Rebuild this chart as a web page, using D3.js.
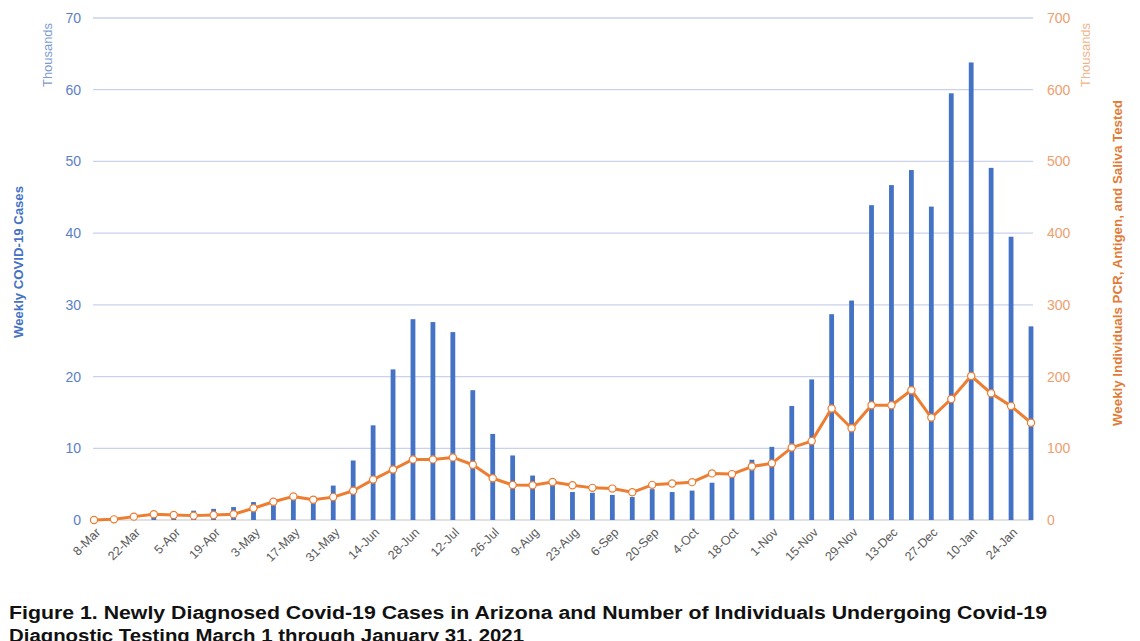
<!DOCTYPE html>
<html>
<head>
<meta charset="utf-8">
<script src="https://cdn.jsdelivr.net/npm/d3@7/dist/d3.min.js"></script>
<style>
  html, body { margin: 0; padding: 0; background: #fff; }
  svg { display: block; }
</style>
</head>
<body>
<div id="chart"></div>
<script>
// week start dates (category axis)
var weeks = ['8-Mar', '15-Mar', '22-Mar', '29-Mar', '5-Apr', '12-Apr', '19-Apr', '26-Apr',
  '3-May', '10-May', '17-May', '24-May', '31-May', '7-Jun', '14-Jun', '21-Jun', '28-Jun',
  '5-Jul', '12-Jul', '19-Jul', '26-Jul', '2-Aug', '9-Aug', '16-Aug', '23-Aug', '30-Aug',
  '6-Sep', '13-Sep', '20-Sep', '27-Sep', '4-Oct', '11-Oct', '18-Oct', '25-Oct', '1-Nov',
  '8-Nov', '15-Nov', '22-Nov', '29-Nov', '6-Dec', '13-Dec', '20-Dec', '27-Dec', '3-Jan',
  '10-Jan', '17-Jan', '24-Jan', '31-Jan'];

// weekly cases, thousands (left axis)
var cases = [0.02, 0.1, 0.3, 0.6, 0.9, 1.3, 1.55, 1.8, 2.5, 2.6, 3.0, 3.3, 4.8, 8.3, 13.2,
  21.0, 28.0, 27.6, 26.2, 18.1, 12.0, 9.0, 6.2, 5.5, 3.9, 3.8, 3.5, 3.2, 4.3, 3.9, 4.1, 5.2,
  6.1, 8.4, 10.2, 15.9, 19.6, 28.7, 30.6, 43.9, 46.7, 48.8, 43.7, 59.5, 63.8, 49.1, 39.5, 27.0];

// weekly individuals tested, thousands (right axis)
var tested = [0, 0.9, 4.7, 8.0, 7.0, 6.1, 7.0, 8.0, 16.4, 25.4, 32.9, 28.2, 31.9, 40.8, 56.3,
  70.4, 84.5, 84.5, 87.3, 77.0, 58.2, 48.8, 48.4, 53.0, 48.5, 44.8, 43.8, 38.6, 49.0, 50.9,
  52.8, 65.0, 64.0, 74.5, 79.0, 101, 110, 155.5, 128, 160, 160, 181, 142.8, 168.7, 200.8,
  176.7, 158.8, 135.7];

var leftTicks = [0, 10, 20, 30, 40, 50, 60, 70];
var rightTicks = [0, 100, 200, 300, 400, 500, 600, 700];

var caption = ['Figure 1. Newly Diagnosed Covid-19 Cases in Arizona and Number of Individuals Undergoing Covid-19',
  'Diagnostic Testing March 1 through January 31, 2021'];

var width = 1140, height = 641;
// plot box (window.top is reserved, so no plain "top")
var plotLeft = 94, plotRight = 1031, plotTop = 18, plotBottom = 520;

var blue = '#4472c4', orange = '#ed7d31';

var svg = d3.select('#chart').append('svg')
  .attr('width', width)
  .attr('height', height)
  .style('font-family', 'Liberation Sans, Arial, sans-serif');

var x = d3.scalePoint().domain(weeks).range([plotLeft, plotRight]).padding(0);
var yL = d3.scaleLinear().domain([0, 70]).range([plotBottom, plotTop]);
var yR = d3.scaleLinear().domain([0, 700]).range([plotBottom, plotTop]);

// grid
svg.append('g')
  .selectAll('line')
  .data(leftTicks.slice(1))
  .enter()
  .append('line')
  .attr('x1', plotLeft - 1).attr('x2', plotRight + 2)
  .attr('y1', function (d) { return yL(d); })
  .attr('y2', function (d) { return yL(d); })
  .attr('stroke', '#c9d2ec')
  .attr('stroke-width', 1.3);

// left axis
var gL = svg.append('g')
  .attr('transform', 'translate(' + (plotLeft - 13) + ',0)')
  .call(d3.axisLeft(yL).tickValues(leftTicks).tickSize(0).tickPadding(0));
gL.select('.domain').remove();
gL.selectAll('text')
  .attr('fill', '#5b7fc6')
  .style('font-size', '14px')
  .style('font-family', 'Liberation Sans, Arial, sans-serif');

// right axis
var gR = svg.append('g')
  .attr('transform', 'translate(' + (plotRight + 16) + ',0)')
  .call(d3.axisRight(yR).tickValues(rightTicks).tickSize(0).tickPadding(0));
gR.select('.domain').remove();
gR.selectAll('text')
  .attr('fill', '#eda070')
  .style('font-size', '14px')
  .style('font-family', 'Liberation Sans, Arial, sans-serif');

// bottom axis line
svg.append('line')
  .attr('x1', plotLeft - 1).attr('x2', plotRight + 2)
  .attr('y1', plotBottom).attr('y2', plotBottom)
  .attr('stroke', '#d9d9d9')
  .attr('stroke-width', 1.3);

// x labels, every other week
svg.append('g')
  .selectAll('text')
  .data(weeks.filter(function (d, i) { return i % 2 === 0; }))
  .enter()
  .append('text')
  .attr('transform', function (d) {
    return 'translate(' + (x(d) + 4) + ',' + (plotBottom + 10) + ') rotate(-45)';
  })
  .attr('text-anchor', 'end')
  .attr('dy', '0.35em')
  .attr('fill', '#595959')
  .style('font-size', '12.5px')
  .text(function (d) { return d; });

// bars
svg.append('g')
  .selectAll('rect')
  .data(cases)
  .enter()
  .append('rect')
  .attr('x', function (d, i) { return x(weeks[i]) - 2.4; })
  .attr('width', 4.8)
  .attr('y', function (d) { return yL(d); })
  .attr('height', function (d) { return plotBottom - yL(d); })
  .attr('fill', blue);

// tested line
var line = d3.line()
  .x(function (d, i) { return x(weeks[i]); })
  .y(function (d) { return yR(d); });

svg.append('path')
  .datum(tested)
  .attr('d', line)
  .attr('fill', 'none')
  .attr('stroke', orange)
  .attr('stroke-width', 3)
  .attr('stroke-linejoin', 'round');

svg.append('g')
  .selectAll('circle')
  .data(tested)
  .enter()
  .append('circle')
  .attr('cx', function (d, i) { return x(weeks[i]); })
  .attr('cy', function (d) { return yR(d); })
  .attr('r', 3.6)
  .attr('fill', '#fff')
  .attr('stroke', orange)
  .attr('stroke-width', 1.2);

// axis titles
function vText(cx, cy, txt, size, color, weight, len) {
  var t = svg.append('text')
    .attr('transform', 'translate(' + cx + ',' + cy + ') rotate(-90)')
    .attr('text-anchor', 'middle')
    .attr('dy', '0.35em')
    .attr('fill', color)
    .style('font-size', size + 'px')
    .style('font-weight', weight)
    .text(txt);
  if (len) t.attr('textLength', len).attr('lengthAdjust', 'spacingAndGlyphs');
  return t;
}
vText(48, 55, 'Thousands', 12.5, '#7d9ad2', 'normal', 64);
vText(18, 262, 'Weekly COVID-19 Cases', 13, blue, 'bold', 152);
vText(1086, 55, 'Thousands', 12.5, '#f0b48c', 'normal', 64);
vText(1117, 263, 'Weekly Individuals PCR, Antigen, and Saliva Tested', 13, '#e27b36', 'bold', 326);

// caption
svg.append('g')
  .selectAll('text')
  .data(caption)
  .enter()
  .append('text')
  .attr('x', 9)
  .attr('y', function (d, i) { return 619 + i * 23; })
  .attr('fill', '#111')
  .style('font-size', '18px')
  .style('font-weight', 'bold')
  .attr('textLength', function (d, i) { return i === 0 ? 1038 : 515; })
  .attr('lengthAdjust', 'spacingAndGlyphs')
  .text(function (d) { return d; });
</script>
</body>
</html>
